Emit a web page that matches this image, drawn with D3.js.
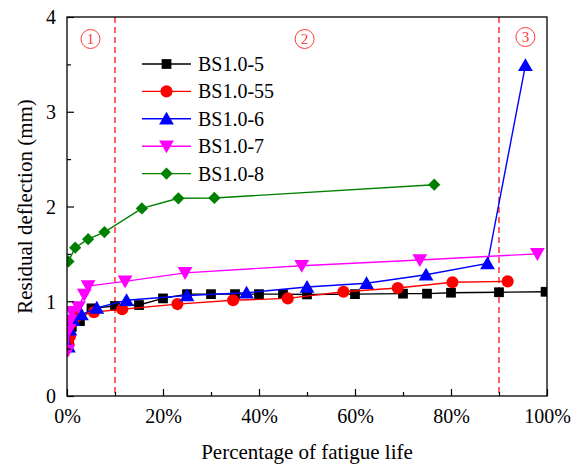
<!DOCTYPE html>
<html>
<head>
<meta charset="utf-8">
<script src="https://cdn.jsdelivr.net/npm/d3@7"></script>
<style>
  html, body { margin: 0; padding: 0; background: #fff; }
  svg { display: block; font-family: "Liberation Serif", "Times New Roman", serif; }
</style>
</head>
<body>
<svg id="chart" width="579" height="468"></svg>
<script>
// Percentage of fatigue life (x) and residual deflection in mm (y) for each specimen
const pct5  = [0.4, 1.0, 2.7, 5.1, 10.0, 15.0, 20.0, 25.0, 30.0, 35.0, 40.0, 45.0, 50.0, 60.0, 70.0, 75.0, 80.0, 90.0, 99.7];
const def5  = [0.60, 0.73, 0.79, 0.925, 0.95, 0.96, 1.03, 1.075, 1.075, 1.075, 1.075, 1.075, 1.072, 1.075, 1.08, 1.08, 1.09, 1.095, 1.10];

const pct55 = [0.3, 0.6, 1.2, 2.0, 5.6, 11.5, 23.0, 34.6, 46.0, 57.6, 68.9, 80.3, 91.8];
const def55 = [0.55, 0.63, 0.78, 0.84, 0.885, 0.915, 0.97, 1.01, 1.03, 1.10, 1.14, 1.20, 1.21];

const pct6  = [0.3, 0.6, 1.3, 3.0, 6.2, 12.4, 25.0, 37.4, 50.0, 62.4, 74.8, 87.6, 95.5];
const def6  = [0.52, 0.70, 0.80, 0.86, 0.93, 1.01, 1.06, 1.09, 1.15, 1.19, 1.28, 1.40, 3.49];

const pct7  = [0.2, 0.4, 0.7, 1.0, 2.4, 3.6, 4.4, 12.1, 24.6, 48.9, 73.5, 98.0];
const def7  = [0.48, 0.70, 0.80, 0.89, 0.94, 1.07, 1.16, 1.21, 1.30, 1.375, 1.435, 1.50];

const pct8  = [0.3, 1.7, 4.4, 7.8, 15.6, 23.2, 30.7, 76.5];
const def8  = [1.42, 1.565, 1.655, 1.73, 1.98, 2.087, 2.09, 2.23];

const seriesNames  = ["BS1.0-5", "BS1.0-55", "BS1.0-6", "BS1.0-7", "BS1.0-8"];
const seriesColors = ["#000000", "#ff0000", "#0000ff", "#ff00ff", "#008000"];
const seriesShapes = ["square", "circle", "triangle", "triangleDown", "diamond"];

const xTicks = [0, 20, 40, 60, 80, 100];
const yTicks = [0, 1, 2, 3, 4];
const stageBounds = [10, 90];
const stageLabels = ["1", "2", "3"];
const stageLabelPos = [4.9, 49.5, 95.5];

const xsAll = [pct5, pct55, pct6, pct7, pct8];
const ysAll = [def5, def55, def6, def7, def8];
const series = seriesNames.map((name, i) => ({
  name,
  color: seriesColors[i],
  shape: seriesShapes[i],
  pts: xsAll[i].map((v, j) => [v, ysAll[i][j]])
}));

const svg = d3.select("#chart");
const m = { left: 67, top: 17, right: 547, bottom: 396 };

const x = d3.scaleLinear().domain([0, 100]).range([m.left, m.right]);
const y = d3.scaleLinear().domain([0, 4]).range([m.bottom, m.top]);

const plot = svg.append("g");

// clip so markers at the frame edge are cut by the plot window
svg.append("defs").append("clipPath").attr("id", "clip")
  .append("rect").attr("x", m.left).attr("y", m.top)
  .attr("width", m.right - m.left).attr("height", m.bottom - m.top);

// stage boundaries
plot.selectAll("line.stage").data(stageBounds).join("line")
  .attr("x1", d => x(d)).attr("x2", d => x(d))
  .attr("y1", m.top).attr("y2", m.bottom)
  .attr("stroke", "#ff3b3b").attr("stroke-width", 1.6)
  .attr("stroke-dasharray", "6,4");

// circled stage numbers
const stage = plot.selectAll("g.stagelbl").data(stageLabels).join("g")
  .attr("transform", (d, i) => `translate(${x(stageLabelPos[i])},${i === 2 ? 37 : 39})`);
stage.append("circle").attr("r", 9.5).attr("fill", "none")
  .attr("stroke", "#ff3b3b").attr("stroke-width", 1);
stage.append("text").text(d => d)
  .attr("text-anchor", "middle").attr("dy", "0.36em")
  .attr("font-size", 15).attr("fill", "#ff3b3b");

const symbolType = {
  square: d3.symbolSquare,
  circle: d3.symbolCircle,
  triangle: d3.symbolTriangle,
  triangleDown: d3.symbolTriangle,
  diamond: d3.symbolSquare
};
const symbolSize = { square: 95, circle: 115, triangle: 95, triangleDown: 95, diamond: 75 };
const symbolRot = { square: 0, circle: 0, triangle: 0, triangleDown: 180, diamond: 45 };
const symPath = s => d3.symbol().type(symbolType[s]).size(symbolSize[s])();
const symShift = s => s === "triangle" ? 1.5 : s === "triangleDown" ? -1.5 : 0;

const line = d3.line().x(d => x(d[0])).y(d => y(d[1]));

const data = svg.append("g").attr("clip-path", "url(#clip)");
series.forEach(s => {
  const g = data.append("g");
  g.append("path").datum(s.pts).attr("d", line)
    .attr("fill", "none").attr("stroke", s.color).attr("stroke-width", 1.4);
  g.selectAll("path.mk").data(s.pts).join("path").attr("class", "mk")
    .attr("d", symPath(s.shape))
    .attr("transform", d => `translate(${x(d[0])},${y(d[1]) + symShift(s.shape)}) rotate(${symbolRot[s.shape]})`)
    .attr("fill", s.color);
});

// axes with inward ticks
const xAxis = d3.axisBottom(x).tickValues(d3.range(0, 101, 10)).tickSize(-6)
  .tickFormat(d => xTicks.includes(d) ? d + "%" : "");
const gx = svg.append("g").attr("transform", `translate(0,${m.bottom})`).call(xAxis);
gx.selectAll(".tick line").attr("y2", d => xTicks.includes(d) ? -7 : -4);

const yAxis = d3.axisLeft(y).tickValues(d3.range(0, 4.01, 0.5)).tickSize(-6)
  .tickFormat(d => yTicks.includes(d) ? d3.format("d")(d) : "");
const gy = svg.append("g").attr("transform", `translate(${m.left},0)`).call(yAxis);
gy.selectAll(".tick line").attr("x2", d => yTicks.includes(d) ? 7 : 4);

[gx, gy].forEach(g => {
  g.attr("font-family", "Liberation Serif, serif");
  g.select(".domain").remove();
  g.selectAll(".tick line").attr("stroke", "#000").attr("stroke-width", 1.2);
  g.selectAll("text").attr("font-size", 20).attr("fill", "#000");
});
gx.selectAll("text").attr("dy", "0").attr("y", 27);
gy.selectAll("text").attr("x", -11).attr("dy", "0.34em");

// frame
svg.append("rect").attr("x", m.left).attr("y", m.top)
  .attr("width", m.right - m.left).attr("height", m.bottom - m.top)
  .attr("fill", "none").attr("stroke", "#000").attr("stroke-width", 1.3);

// axis titles
svg.append("text").text("Percentage of fatigue life")
  .attr("x", (m.left + m.right) / 2).attr("y", 459)
  .attr("text-anchor", "middle").attr("font-size", 21);
svg.append("text").text("Residual deflection (mm)")
  .attr("transform", `translate(32,${(m.top + m.bottom) / 2}) rotate(-90)`)
  .attr("text-anchor", "middle").attr("font-size", 21);

// legend
const leg = svg.append("g").attr("transform", "translate(142,64)");
const row = leg.selectAll("g").data(series).join("g")
  .attr("transform", (d, i) => `translate(0,${i * 27.4})`);
row.append("line").attr("x1", 0).attr("x2", 49)
  .attr("stroke", d => d.color).attr("stroke-width", 1.4);
row.append("path").attr("d", d => symPath(d.shape))
  .attr("transform", d => `translate(24.5,${symShift(d.shape)}) rotate(${symbolRot[d.shape]})`)
  .attr("fill", d => d.color);
row.append("text").text(d => d.name)
  .attr("x", 56).attr("dy", "0.35em").attr("font-size", 20);
</script>
</body>
</html>
